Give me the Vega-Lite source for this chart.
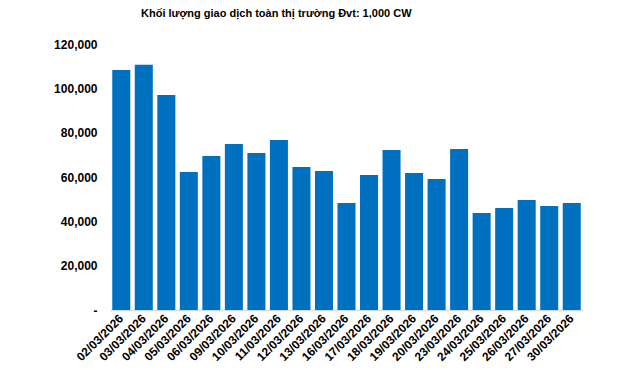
{
  "$schema": "https://vega.github.io/schema/vega-lite/v6.json",
  "width": 473,
  "height": 266,
  "autosize": {"type": "none"},
  "padding": {"left": 110, "top": 44, "right": 57, "bottom": 60},
  "background": "white",
  "title": {
    "text": "Khối lượng giao dịch toàn thị trường Đvt: 1,000 CW",
    "anchor": "start",
    "frame": "group",
    "dx": 31,
    "offset": 19,
    "font": "Liberation Sans",
    "fontSize": 11,
    "fontWeight": "bold",
    "color": "#000000"
  },
  "data": {
    "values": [
      {"date": "02/03/2026", "value": 108300},
      {"date": "03/03/2026", "value": 110600},
      {"date": "04/03/2026", "value": 97000},
      {"date": "05/03/2026", "value": 62300},
      {"date": "06/03/2026", "value": 69500},
      {"date": "09/03/2026", "value": 74900},
      {"date": "10/03/2026", "value": 70800},
      {"date": "11/03/2026", "value": 76700},
      {"date": "12/03/2026", "value": 64500},
      {"date": "13/03/2026", "value": 62700},
      {"date": "16/03/2026", "value": 48300},
      {"date": "17/03/2026", "value": 60900},
      {"date": "18/03/2026", "value": 72200},
      {"date": "19/03/2026", "value": 61800},
      {"date": "20/03/2026", "value": 59100},
      {"date": "23/03/2026", "value": 72600},
      {"date": "24/03/2026", "value": 43800},
      {"date": "25/03/2026", "value": 46000},
      {"date": "26/03/2026", "value": 49600},
      {"date": "27/03/2026", "value": 46900},
      {"date": "30/03/2026", "value": 48300}
    ]
  },
  "mark": {"type": "bar", "color": "#0070C0"},
  "encoding": {
    "x": {
      "field": "date",
      "type": "ordinal",
      "sort": null,
      "scale": {"paddingInner": 0.2, "paddingOuter": 0.1},
      "axis": {
        "title": null,
        "labelAngle": -45,
        "labelAlign": "right",
        "labelBaseline": "middle",
        "labelFont": "Liberation Sans",
        "labelFontSize": 12,
        "labelFontWeight": "bold",
        "labelColor": "#000000",
        "labelPadding": 6,
        "ticks": false,
        "domainColor": "#d9d9d9",
        "domainWidth": 1.5
      }
    },
    "y": {
      "field": "value",
      "type": "quantitative",
      "scale": {"domain": [0, 120000], "nice": false},
      "axis": {
        "title": null,
        "values": [0, 20000, 40000, 60000, 80000, 100000, 120000],
        "labelExpr": "datum.value == 0 ? '-\u00a0\u00a0' : format(datum.value, ',')",
        "labelFont": "Liberation Sans",
        "labelFontSize": 12,
        "labelFontWeight": "bold",
        "labelColor": "#000000",
        "labelPadding": 13,
        "ticks": false,
        "domain": false,
        "grid": false
      }
    }
  },
  "config": {"view": {"stroke": null}}
}
